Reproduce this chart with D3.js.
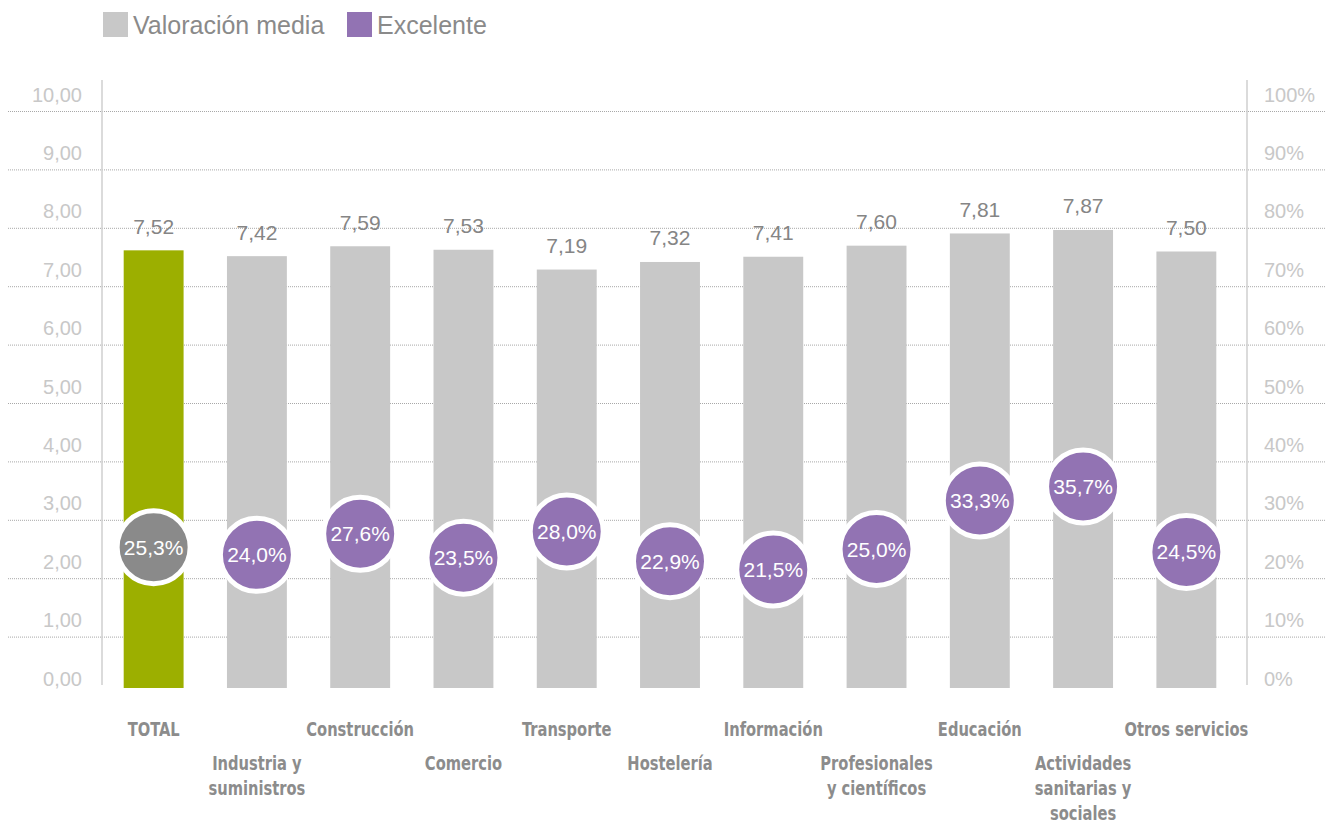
<!DOCTYPE html>
<html>
<head>
<meta charset="utf-8">
<script src="https://cdn.jsdelivr.net/npm/d3@7"></script>
<style>
  body { margin: 0; background: #fff; }
  svg { font-family: "Liberation Sans", Arial, Helvetica, sans-serif; }
  .cat { font-family: "DejaVu Sans Condensed", "DejaVu Sans", sans-serif; font-weight: bold; }
</style>
</head>
<body>
<div id="chart"></div>
<script>
// sectors, average score (0-10) and share rated "excelente" (%)
var categories = ["TOTAL", "Industria y\nsuministros", "Construcción", "Comercio", "Transporte", "Hostelería",
  "Información", "Profesionales\ny científicos", "Educación", "Actividades\nsanitarias y\nsociales", "Otros servicios"];
var valoracion = [7.52, 7.42, 7.59, 7.53, 7.19, 7.32, 7.41, 7.60, 7.81, 7.87, 7.50];
var excelente = [25.3, 24.0, 27.6, 23.5, 28.0, 22.9, 21.5, 25.0, 33.3, 35.7, 24.5];
var leftTicks = [0, 1, 2, 3, 4, 5, 6, 7, 8, 9, 10];
var rightTicks = [0, 10, 20, 30, 40, 50, 60, 70, 80, 90, 100];
var legendItems = ["Valoración media", "Excelente"];

var width = 1330, height = 825;
var colGray = "#c8c8c8", colGreen = "#9caf00", colPurple = "#9273b3", colDark = "#8a8a8a";

var svg = d3.select("#chart").append("svg")
  .attr("width", width)
  .attr("height", height);

var fmt = function(v) { return d3.format(".2f")(v).replace(".", ","); };
var fmtPct = function(v) { return d3.format(".1f")(v).replace(".", ",") + "%"; };

var x = d3.scaleBand()
  .domain(d3.range(categories.length))
  .range([102, 1238])
  .paddingInner(0.42)
  .paddingOuter(0.21);

// gridline / axis scale
var y = d3.scaleLinear().domain([0, 10]).range([695, 111]);
var yPct = d3.scaleLinear().domain([0, 100]).range([695, 111]);
// bars sit on their own baseline a bit above the first gridline
var yBar = d3.scaleLinear().domain([0, 10]).range([688, 106]);

// gridlines
svg.append("g")
  .selectAll("line")
  .data(leftTicks.filter(function(d) { return d > 0; }))
  .enter().append("line")
    .attr("x1", 8).attr("x2", 1325)
    .attr("y1", function(d) { return y(d) + 0.5; })
    .attr("y2", function(d) { return y(d) + 0.5; })
    .style("stroke", "#a8a8a8")
    .style("stroke-width", 1)
    .style("stroke-dasharray", "1,1");

// axis lines
svg.append("line").attr("x1", 102).attr("x2", 102).attr("y1", 80).attr("y2", 685)
  .style("stroke", "#cfcfcf").style("stroke-width", 1.5);
svg.append("line").attr("x1", 1247).attr("x2", 1247).attr("y1", 80).attr("y2", 685)
  .style("stroke", "#cfcfcf").style("stroke-width", 1.5);

var yAxisL = svg.append("g")
  .attr("transform", "translate(82,0)")
  .call(d3.axisLeft(y).tickValues(leftTicks).tickFormat(fmt).tickSize(0).tickPadding(0));
yAxisL.select(".domain").remove();
yAxisL.selectAll("text")
  .attr("dy", "-0.5em")
  .style("font-family", "Liberation Sans, Arial, sans-serif")
  .style("font-size", "20px")
  .style("fill", "#c8c8c8");

var yAxisR = svg.append("g")
  .attr("transform", "translate(1264,0)")
  .call(d3.axisRight(yPct).tickValues(rightTicks).tickFormat(function(d) { return d + "%"; }).tickSize(0).tickPadding(0));
yAxisR.select(".domain").remove();
yAxisR.selectAll("text")
  .attr("dy", "-0.5em")
  .style("font-family", "Liberation Sans, Arial, sans-serif")
  .style("font-size", "20px")
  .style("fill", "#c8c8c8");

// bars
svg.append("g")
  .selectAll("rect")
  .data(valoracion)
  .enter().append("rect")
    .attr("x", function(d, i) { return x(i); })
    .attr("y", function(d) { return yBar(d); })
    .attr("width", x.bandwidth())
    .attr("height", function(d) { return yBar(0) - yBar(d); })
    .style("fill", function(d, i) { return i === 0 ? colGreen : colGray; });

// bar value labels
svg.append("g")
  .selectAll("text")
  .data(valoracion)
  .enter().append("text")
    .attr("x", function(d, i) { return x(i) + x.bandwidth() / 2; })
    .attr("y", function(d) { return yBar(d) - 24; })
    .attr("dy", "0.35em")
    .attr("text-anchor", "middle")
    .style("font-size", "21px")
    .style("fill", "#858585")
    .text(fmt);

// circles for % excelente
var dots = svg.append("g")
  .selectAll("g")
  .data(excelente)
  .enter().append("g")
    .attr("transform", function(d, i) { return "translate(" + (x(i) + x.bandwidth() / 2) + "," + yPct(d) + ")"; });

dots.append("circle")
  .attr("r", 36.5)
  .style("fill", function(d, i) { return i === 0 ? colDark : colPurple; })
  .style("stroke", "#fff")
  .style("stroke-width", 5);

dots.append("text")
  .attr("text-anchor", "middle")
  .attr("dy", "0.36em")
  .style("font-size", "21px")
  .style("fill", "#fff")
  .text(fmtPct);

// category labels, alternating rows, squeezed horizontally to look condensed
var cats = svg.append("g")
  .selectAll("text")
  .data(categories)
  .enter().append("text")
    .attr("class", "cat")
    .attr("text-anchor", "middle")
    .attr("transform", function(d, i) {
      return "translate(" + (x(i) + x.bandwidth() / 2) + "," + (i % 2 === 0 ? 736 : 770) + ") scale(0.86,1)";
    })
    .style("font-size", "19px")
    .style("fill", "#8c8c8c");

cats.each(function(d) {
  var t = d3.select(this);
  d.split("\n").forEach(function(line, k) {
    t.append("tspan")
      .attr("x", 0)
      .attr("dy", k === 0 ? 0 : 25)
      .text(line);
  });
});

// legend
var legendX = [103, 347];
var legend = svg.append("g")
  .selectAll("g")
  .data(legendItems)
  .enter().append("g")
    .attr("transform", function(d, i) { return "translate(" + legendX[i] + ",12)"; });

legend.append("rect")
  .attr("width", 25).attr("height", 25)
  .style("fill", function(d, i) { return i === 0 ? colGray : colPurple; });

legend.append("text")
  .attr("x", 30).attr("y", 13)
  .attr("dy", "0.36em")
  .style("font-size", "25px")
  .style("fill", "#8a8a8a")
  .text(function(d) { return d; });
</script>
</body>
</html>
